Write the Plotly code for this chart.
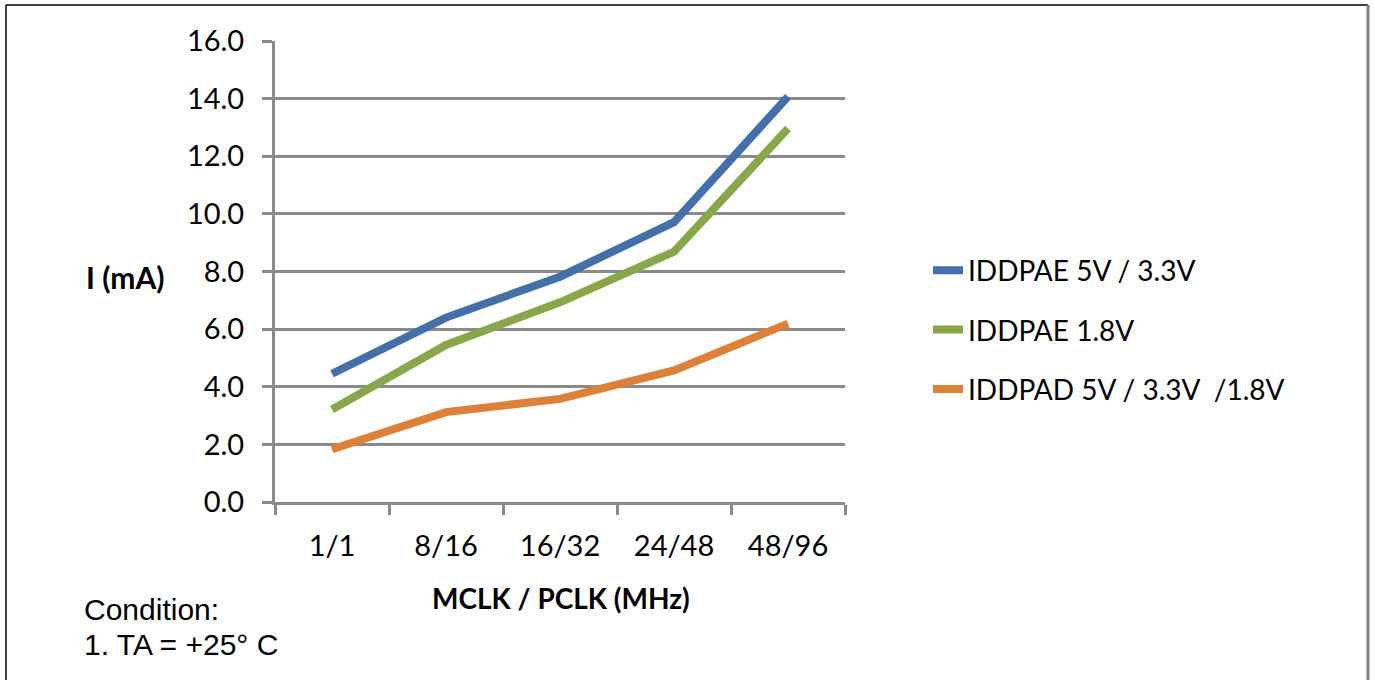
import plotly.graph_objects as go

categories = ["1/1", "8/16", "16/32", "24/48", "48/96"]
iddpae_5v_33v = [4.45, 6.40, 7.82, 9.71, 14.07]
iddpae_18v = [3.21, 5.45, 6.93, 8.69, 12.96]
iddpad_all = [1.83, 3.12, 3.58, 4.57, 6.19]
series_names = ["IDDPAE 5V / 3.3V", "IDDPAE 1.8V", "IDDPAD 5V / 3.3V  /1.8V"]
series_values = [iddpae_5v_33v, iddpae_18v, iddpad_all]
series_colors = ["#4370A8", "#87A74A", "#DD8038"]
y_ticks = [0, 2, 4, 6, 8, 10, 12, 14, 16]

W, H = 1375, 680
L, R, T, B = 275, 845, 41, 502  # plot area in window pixels
GRID = "#8A8A8A"
FONT = "Lato"

fig = go.Figure()
for i, (name, vals, col) in enumerate(zip(series_names, series_values, series_colors)):
    fig.add_trace(go.Scatter(
        x=categories, y=vals, name=name, mode="lines",
        line=dict(color=col, width=8), legendgroup=f"g{i}",
    ))

def px2x(px):
    return (px - L) / (R - L)

def py2y(py):
    return (B - py) / (B - T)

fig.update_layout(
    width=W, height=H,
    margin=dict(l=L, r=W - R, t=T, b=H - B),
    paper_bgcolor="white", plot_bgcolor="white",
    font=dict(family=FONT, size=29, color="black"),
    showlegend=True,
    legend=dict(
        x=px2x(928), y=py2y(330), xanchor="left", yanchor="middle",
        font=dict(family=FONT, size=28, color="black"),
        tracegroupgap=20, traceorder="grouped",
        bgcolor="rgba(0,0,0,0)",
    ),
    xaxis=dict(
        type="category", range=[-0.5, 4.5],
        showline=True, linecolor=GRID, linewidth=3,
        ticks="outside", ticklen=10, tickwidth=3, tickcolor=GRID,
        tickson="boundaries", showgrid=False,
        tickfont=dict(family=FONT, size=29),
        ticklabelstandoff=16,
    ),
    yaxis=dict(
        range=[0, 16], tickvals=y_ticks, tickformat=".1f",
        showline=True, linecolor=GRID, linewidth=3,
        ticks="outside", ticklen=10, tickwidth=3, tickcolor=GRID,
        showgrid=True, gridcolor=GRID, gridwidth=3,
        zeroline=False,
        tickfont=dict(family=FONT, size=29),
        ticklabelstandoff=12,
    ),
    annotations=[
        dict(text="<b>I (mA)</b>", x=px2x(125), y=py2y(277), xref="paper", yref="paper",
             showarrow=False, font=dict(family=FONT, size=30), xanchor="center", yanchor="middle"),
        dict(text="<b>MCLK / PCLK (MHz)</b>", x=px2x(561), y=py2y(598), xref="paper", yref="paper",
             showarrow=False, font=dict(family=FONT, size=28), xanchor="center", yanchor="middle"),
        dict(text="Condition:", x=px2x(82), y=py2y(609), xref="paper", yref="paper",
             showarrow=False, font=dict(family="Liberation Sans", size=30), xanchor="left", yanchor="middle"),
        dict(text="1. TA = +25° C", x=px2x(82), y=py2y(644), xref="paper", yref="paper",
             showarrow=False, font=dict(family="Liberation Sans", size=30), xanchor="left", yanchor="middle"),
    ],
    shapes=[
        dict(type="line", xref="paper", yref="paper", x0=px2x(6), x1=px2x(1368), y0=py2y(5), y1=py2y(5),
             line=dict(color="black", width=1.5)),
        dict(type="line", xref="paper", yref="paper", x0=px2x(6), x1=px2x(6), y0=py2y(5), y1=py2y(690),
             line=dict(color="black", width=1.5)),
        dict(type="line", xref="paper", yref="paper", x0=px2x(1368), x1=px2x(1368), y0=py2y(5), y1=py2y(690),
             line=dict(color="#808080", width=3)),
    ],
)

fig.write_html("out.html", config={"displayModeBar": False},
               post_script="document.body.style.margin='0px';")
